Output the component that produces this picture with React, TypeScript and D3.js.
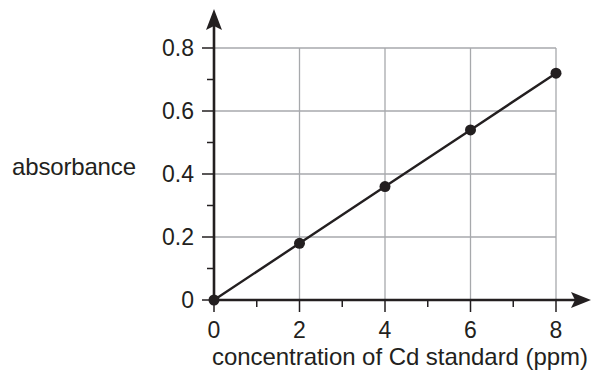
import React, { useEffect, useRef } from "react";
import * as d3 from "d3";

const concentrations = [0, 2, 4, 6, 8];
const absorbances = [0, 0.18, 0.36, 0.54, 0.72];
const xTicks = [0, 2, 4, 6, 8];
const yTicks = [0, 0.2, 0.4, 0.6, 0.8];
const xLabel = "concentration of Cd standard (ppm)";
const yLabel = "absorbance";

const W = 592;
const H = 374;
const ink = "#231f20";
const gridColor = "#a7a9ac";

export default function App() {
  const ref = useRef<SVGSVGElement>(null);

  useEffect(() => {
    const svg = d3.select(ref.current);
    svg.selectAll("*").remove();

    const x = d3.scaleLinear().domain([0, 8]).range([214, 556]);
    const y = d3.scaleLinear().domain([0, 0.8]).range([300, 48]);
    const font = "'Liberation Sans', Arial, sans-serif";

    // grid
    const g = svg.append("g");
    g.selectAll("line.h")
      .data(yTicks.filter((t) => t > 0))
      .enter()
      .append("line")
      .attr("x1", x(0))
      .attr("x2", x(8))
      .attr("y1", (d) => y(d))
      .attr("y2", (d) => y(d))
      .attr("stroke", gridColor)
      .attr("stroke-width", 1.3);
    g.selectAll("line.v")
      .data(xTicks.filter((t) => t > 0))
      .enter()
      .append("line")
      .attr("x1", (d) => x(d))
      .attr("x2", (d) => x(d))
      .attr("y1", y(0))
      .attr("y2", y(0.8))
      .attr("stroke", gridColor)
      .attr("stroke-width", 1.3);

    // ticks
    const minorX = d3.range(1, 8, 2);
    const minorY = d3.range(0.1, 0.8, 0.2);
    svg.append("g")
      .selectAll("line")
      .data(xTicks)
      .enter()
      .append("line")
      .attr("x1", (d) => x(d))
      .attr("x2", (d) => x(d))
      .attr("y1", y(0))
      .attr("y2", y(0) + 12)
      .attr("stroke", ink)
      .attr("stroke-width", 1.5);
    svg.append("g")
      .selectAll("line")
      .data(minorX)
      .enter()
      .append("line")
      .attr("x1", (d) => x(d))
      .attr("x2", (d) => x(d))
      .attr("y1", y(0))
      .attr("y2", y(0) + 7)
      .attr("stroke", ink)
      .attr("stroke-width", 1.5);
    svg.append("g")
      .selectAll("line")
      .data(yTicks)
      .enter()
      .append("line")
      .attr("x1", x(0) - 12)
      .attr("x2", x(0))
      .attr("y1", (d) => y(d))
      .attr("y2", (d) => y(d))
      .attr("stroke", ink)
      .attr("stroke-width", 1.5);
    svg.append("g")
      .selectAll("line")
      .data(minorY)
      .enter()
      .append("line")
      .attr("x1", x(0) - 7)
      .attr("x2", x(0))
      .attr("y1", (d) => y(d))
      .attr("y2", (d) => y(d))
      .attr("stroke", ink)
      .attr("stroke-width", 1.5);

    // axes with arrowheads
    svg.append("line")
      .attr("x1", x(0))
      .attr("x2", 580)
      .attr("y1", y(0))
      .attr("y2", y(0))
      .attr("stroke", ink)
      .attr("stroke-width", 2.6);
    svg.append("line")
      .attr("x1", x(0))
      .attr("x2", x(0))
      .attr("y1", y(0))
      .attr("y2", 22)
      .attr("stroke", ink)
      .attr("stroke-width", 2.6);
    svg.append("path")
      .attr("d", `M591,${y(0)} L571,${y(0) - 8} L575,${y(0)} L571,${y(0) + 8} Z`)
      .attr("fill", ink);
    svg.append("path")
      .attr("d", `M${x(0)},9 L${x(0) - 8},30 L${x(0)},26 L${x(0) + 8},30 Z`)
      .attr("fill", ink);

    // tick labels
    svg.append("g")
      .selectAll("text")
      .data(xTicks)
      .enter()
      .append("text")
      .attr("x", (d) => x(d))
      .attr("y", 338)
      .attr("text-anchor", "middle")
      .attr("font-family", font)
      .attr("font-size", 23)
      .attr("fill", ink)
      .text((d) => d3.format("d")(d));
    svg.append("g")
      .selectAll("text")
      .data(yTicks)
      .enter()
      .append("text")
      .attr("x", 194)
      .attr("y", (d) => y(d))
      .attr("dy", "0.36em")
      .attr("text-anchor", "end")
      .attr("font-family", font)
      .attr("font-size", 23)
      .attr("fill", ink)
      .text((d) => (d === 0 ? "0" : d3.format(".1f")(d)));

    // axis titles
    svg.append("text")
      .attr("x", 212)
      .attr("y", 365)
      .attr("font-family", font)
      .attr("font-size", 24)
      .attr("textLength", 376)
      .attr("fill", ink)
      .text(xLabel);
    svg.append("text")
      .attr("x", 12)
      .attr("y", 175)
      .attr("font-family", font)
      .attr("font-size", 24)
      .attr("textLength", 124)
      .attr("fill", ink)
      .text(yLabel);

    // data line and points
    const pts = concentrations.map((c, i) => [c, absorbances[i]] as [number, number]);
    svg.append("path")
      .datum(pts)
      .attr("d", d3.line<[number, number]>().x((d) => x(d[0])).y((d) => y(d[1])))
      .attr("fill", "none")
      .attr("stroke", ink)
      .attr("stroke-width", 2.4);
    svg.append("g")
      .selectAll("circle")
      .data(pts)
      .enter()
      .append("circle")
      .attr("cx", (d) => x(d[0]))
      .attr("cy", (d) => y(d[1]))
      .attr("r", 5.5)
      .attr("fill", ink);
  }, []);

  return (
    <svg
      ref={ref}
      width={W}
      height={H}
      style={{ position: "absolute", left: 0, top: 0, background: "#fff" }}
    />
  );
}
